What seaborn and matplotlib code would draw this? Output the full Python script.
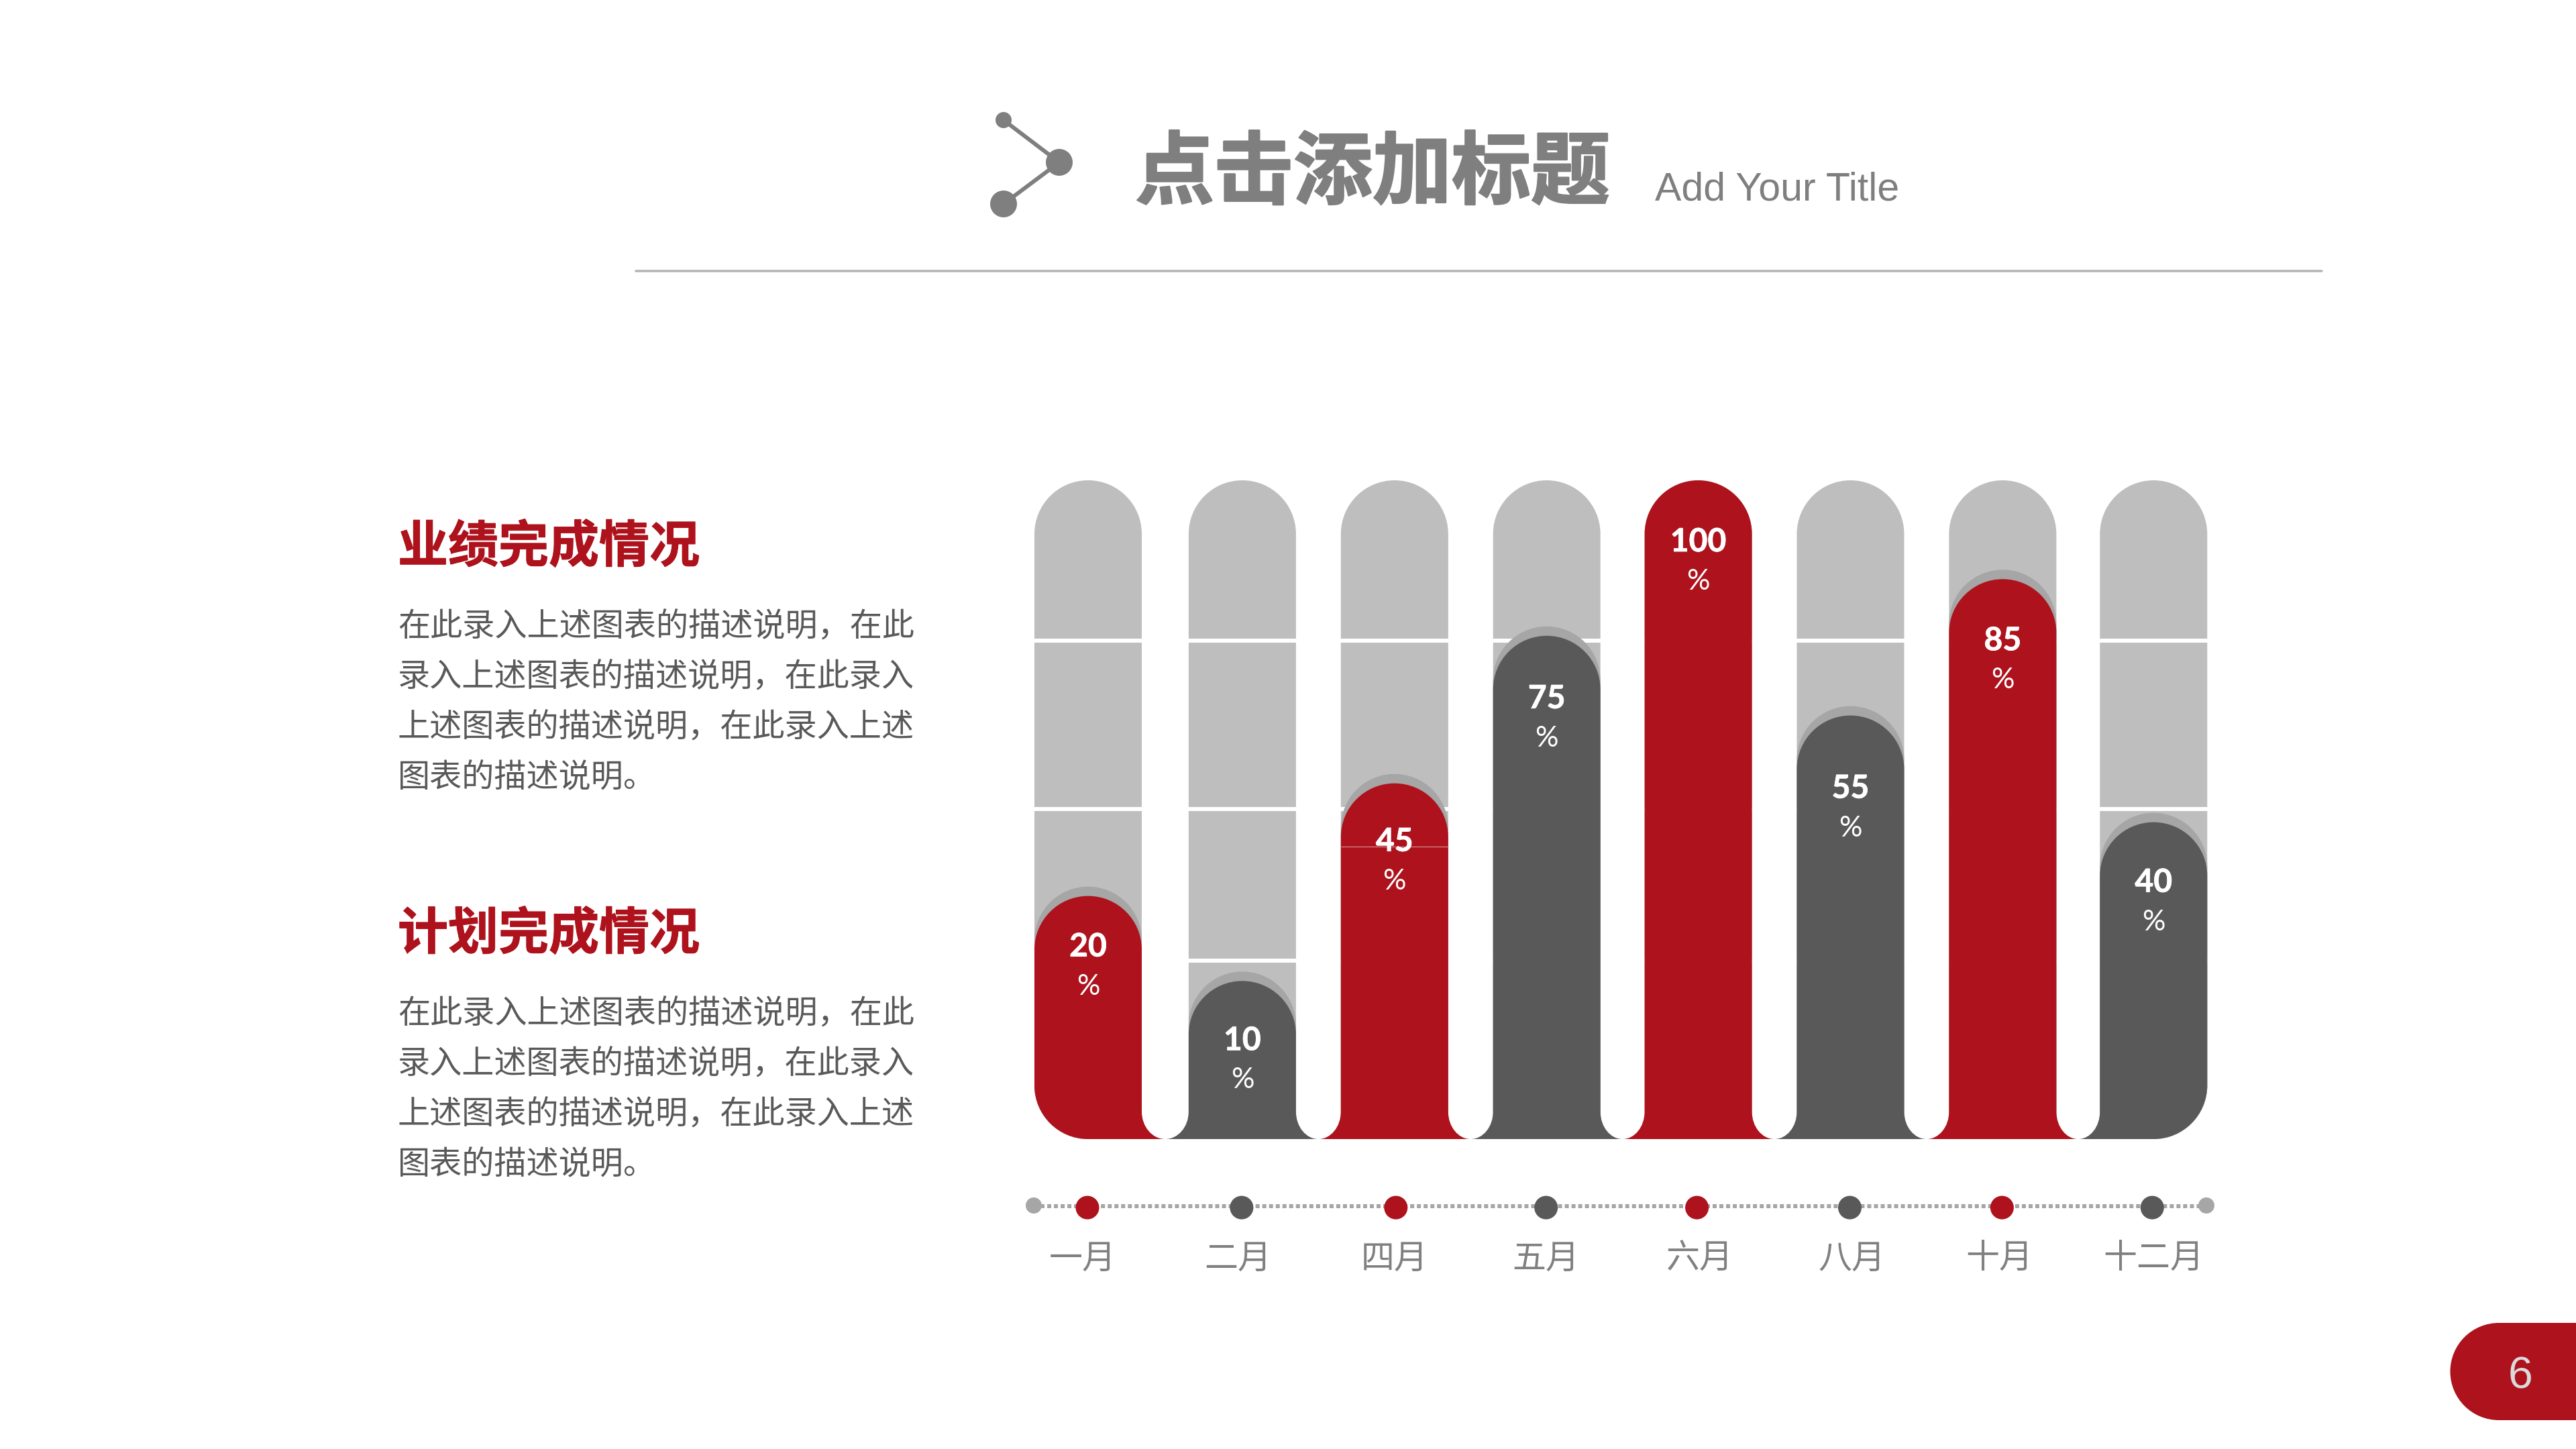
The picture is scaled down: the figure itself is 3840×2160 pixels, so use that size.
import numpy as np
import seaborn as sns
import matplotlib.pyplot as plt
import matplotlib.patheffects as pe
from matplotlib.path import Path
from matplotlib.patches import PathPatch, Circle, Rectangle
from matplotlib.transforms import ScaledTranslation

# data
months = ['一月', '二月', '四月', '五月', '六月', '八月', '十月', '十二月']
values = [20, 10, 45, 75, 100, 55, 85, 40]
bar_levels = [36.9, 24.0, 54.0, 76.4, 100.0, 64.3, 85.0, 48.1]
track_levels = [100] * 8
separators = [75.7, 50.1, 27.1]
headings = ['业绩完成情况', '计划完成情况']
body_lines = ['在此录入上述图表的描述说明，在此',
              '录入上述图表的描述说明，在此录入',
              '上述图表的描述说明，在此录入上述',
              '图表的描述说明。']

# layout, in slide pixels
label_offsets = [76, 89, 87, 94, 92, 109, 92, 90]
bar_nudges = [0, 3, 3, 3, 2, 2, 2, 0]
dot_nudges = [-1, 2, 5, 2, 0, 1, 1, -2]
month_shifts = [-8, -4, 3, 2, 4, 4, -3, 0]
RED = '#AE121C'
DARK = '#595959'
TRACK = '#BEBEBE'
HALO = '#A6A6A6'
TITLE_GREY = '#7F7F7F'
palette = [RED, DARK, RED, DARK, RED, DARK, RED, DARK]
CJK = ['Noto Sans CJK SC', 'DejaVu Sans']
PT = 0.36  # pixels to points at dpi 200

sns.set_theme(style='white')
plt.rcParams['font.family'] = CJK

fig = plt.figure(figsize=(19.2, 10.8), dpi=200, facecolor='white')

# slide furniture lives on a full size axes in pixel coordinates
bg = fig.add_axes([0, 0, 1, 1], zorder=0)
bg.set_xlim(0, 3840)
bg.set_ylim(2160, 0)
bg.axis('off')

bg.plot([948, 3461], [404, 404], color='#B4B4B4', lw=3.5 * PT)
bg.plot([1496, 1579, 1496], [179, 242, 304], color=TITLE_GREY, lw=6 * PT)
for cx, cy, r in [(1496, 179, 12), (1579, 242, 20), (1496, 304, 20)]:
    bg.add_patch(Circle((cx, cy), r, color=TITLE_GREY, lw=0))

bg.text(1692, 260, '点击添加标题', fontsize=118 * PT, color=TITLE_GREY, weight='bold',
        va='center', ha='left',
        path_effects=[pe.withStroke(linewidth=2.5 * PT, foreground=TITLE_GREY)])
bg.text(2467, 283, 'Add Your Title', fontsize=59 * PT, color=TITLE_GREY,
        family='Liberation Sans', va='center', ha='left')

for top, heading in zip([816, 1393], headings):
    bg.text(593, top, heading, fontsize=75 * PT, color=RED, weight='bold',
            va='center', ha='left',
            path_effects=[pe.withStroke(linewidth=1 * PT, foreground=RED)])
    for n, line in enumerate(body_lines):
        bg.text(593, top + 119 + n * 75, line, fontsize=48.2 * PT, color=DARK,
                va='center', ha='left')

bg.plot([1541, 3289], [1798, 1798], color=HALO, lw=6 * PT, ls=(0, (1, 0.67)))
for cx in [1541, 3289]:
    bg.add_patch(Circle((cx, 1797), 12, color=HALO, lw=0))

bg.add_patch(Rectangle((3725, 1972), 115, 145, fc=RED, lw=0))
bg.add_patch(Circle((3725, 2044.5), 72.5, color=RED, lw=0))
bg.text(3757, 2052, '6', fontsize=66 * PT, color='#DADADA', family='Liberation Sans',
        va='center', ha='center')

# the chart itself
STEP = 226.9
ax = fig.add_axes([(1622 - STEP / 2) / 3840, (2160 - 1698) / 2160,
                   8 * STEP / 3840, 982 / 2160], zorder=1)
ax.patch.set_alpha(0)
BAR_W = 160 / STEP
Y_PX = 982 / 100


def bar_path(x0, x1, top, left=None, right=None, left_half=0, right_half=0):
    # dome on top, base is square, a rounded corner or a foot flaring into the gap
    k = 0.5523
    rx = (x1 - x0) / 2
    ry = rx * STEP / Y_PX
    fy = 41 / Y_PX
    v, c = [], []

    def move(p):
        v.append(p)
        c.append(Path.MOVETO)

    def line(p):
        v.append(p)
        c.append(Path.LINETO)

    def curve(a, b, p):
        v.extend([a, b, p])
        c.extend([Path.CURVE4] * 3)

    if left == 'corner':
        move((x0 + rx, 0))
        curve((x0 + rx - k * rx, 0), (x0, ry - k * ry), (x0, ry))
    elif left == 'foot':
        move((x0 - left_half, 0))
        curve((x0 - left_half + k * left_half, 0), (x0, fy - k * fy), (x0, fy))
    else:
        move((x0, 0))
    line((x0, top - ry))
    curve((x0, top - ry + k * ry), (x0 + rx - k * rx, top), (x0 + rx, top))
    curve((x0 + rx + k * rx, top), (x1, top - ry + k * ry), (x1, top - ry))
    if right == 'corner':
        line((x1, ry))
        curve((x1, ry - k * ry), (x1 - rx + k * rx, 0), (x1 - rx, 0))
    elif right == 'foot':
        line((x1, fy))
        curve((x1, fy - k * fy), (x1 + right_half - k * right_half, 0), (x1 + right_half, 0))
    else:
        line((x1, 0))
    v.append(v[0])
    c.append(Path.CLOSEPOLY)
    return Path(v, c)


sns.barplot(x=months, y=track_levels, color=TRACK, width=BAR_W, saturation=1, ax=ax)
n_track = len(ax.patches)
halo_levels = [v + 14 / Y_PX if v < 100 else 0 for v in bar_levels]
sns.barplot(x=months, y=halo_levels, color=HALO, width=BAR_W, saturation=1, ax=ax)
n_halo = len(ax.patches)
sns.barplot(x=months, y=bar_levels, hue=months, palette=palette, dodge=False, legend=False,
            width=BAR_W, saturation=1, ax=ax)

ax.set_xlim(-0.5, 7.5)
ax.set_ylim(0, 100)

# swap the plain rectangles for the rounded shapes, same geometry
rects = list(ax.patches)
last = len(months) - 1
lefts = [r.get_x() + n / STEP for r, n in zip(rects[:n_track], bar_nudges)]
for i, rect in enumerate(rects):
    w, h, color = rect.get_width(), rect.get_height(), rect.get_facecolor()
    rect.remove()
    if h <= 0:
        continue
    pos = i % len(months)
    x0 = lefts[pos]
    edge_l = 'corner' if pos == 0 else None
    edge_r = 'corner' if pos == last else None
    if i < n_track:
        path, z = bar_path(x0, x0 + w, h, edge_l, edge_r), 1
    elif i < n_halo:
        path, z = bar_path(x0, x0 + w, h, edge_l, edge_r), 3
    else:
        half_l = (x0 - lefts[pos - 1] - w) / 2 if pos > 0 else 0
        half_r = (lefts[pos + 1] - x0 - w) / 2 if pos < last else 0
        path = bar_path(x0, x0 + w, h, edge_l or 'foot', edge_r or 'foot', half_l, half_r)
        z = 4
    ax.add_patch(PathPatch(path, fc=color, ec='none', lw=0, zorder=z, clip_on=False))

for level in separators:
    ax.hlines(level, -0.5, 7.5, color='white', lw=6 * PT, zorder=2)

# faint seam that shows across the 四月 bar
ax.hlines(44.4, lefts[2], lefts[2] + BAR_W, color='#D9A6A9', lw=1 * PT, zorder=5)

num_fx = [pe.withStroke(linewidth=0.8 * PT, foreground='white')]
for i, (value, level, off) in enumerate(zip(values, bar_levels, label_offsets)):
    ax.annotate(str(value), xy=(i + bar_nudges[i] / STEP, level), xytext=(0, -off * PT),
                textcoords='offset points', ha='center', va='center', fontsize=48 * PT,
                color='white', weight='bold', family='Lato', zorder=6, path_effects=num_fx)
    ax.annotate('%', xy=(i + bar_nudges[i] / STEP, level), xytext=(0, -(off + 59) * PT),
                textcoords='offset points', ha='center', va='center', fontsize=43 * PT,
                color='white', family='Lato', zorder=6)

# timeline dots under each bar
dot_x = np.arange(len(months)) + np.array(dot_nudges) / STEP
sns.scatterplot(x=dot_x, y=[-10.4] * len(months), hue=months, palette=palette,
                s=(35 * PT) ** 2, linewidth=0, legend=False, clip_on=False, zorder=6, ax=ax)

ax.set_xticks(np.arange(len(months)))
ax.set_xticklabels(months, fontsize=50 * PT, color='#808080')
ax.tick_params(axis='x', length=0, pad=153 * PT)
ax.set_yticks([])
ax.set(xlabel='', ylabel='')
ax.set_xlim(-0.5, 7.5)
ax.set_ylim(0, 100)
sns.despine(ax=ax, left=True, bottom=True)

for tick_label, shift in zip(ax.get_xticklabels(), month_shifts):
    tick_label.set_transform(tick_label.get_transform()
                             + ScaledTranslation(shift / 200, 0, fig.dpi_scale_trans))

fig.savefig('out.png', dpi=200, facecolor='white')
